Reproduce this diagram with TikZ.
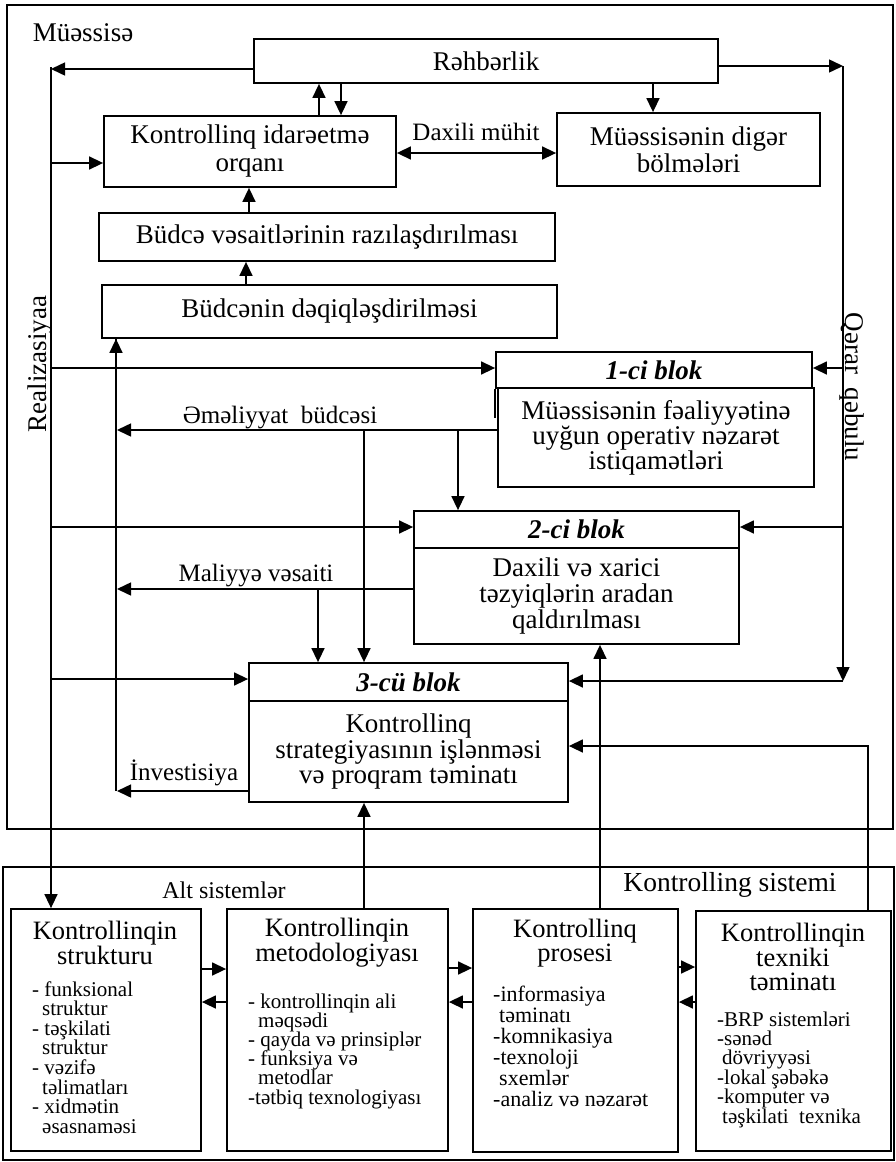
\documentclass[tikz,border=0pt]{standalone}
\usepackage{fontspec}
\setmainfont{Liberation Serif}
\usetikzlibrary{arrows.meta}
\begin{document}
\begin{tikzpicture}[x=1pt,y=-1pt,
  frame/.style={draw, line width=2pt, inner sep=0pt},
  box/.style={draw, line width=1.8pt, inner sep=0pt, align=center, fill=white},
  conn/.style={line width=1.5pt, -{Triangle[length=14pt,width=13pt]}},
  dconn/.style={line width=1.5pt, {Triangle[length=14pt,width=13pt]}-{Triangle[length=14pt,width=13pt]}},
  fbig/.style={font=\fontsize{27}{28}\selectfont},
  fhead/.style={font=\fontsize{27}{28}\selectfont\bfseries\itshape},
  flbl/.style={font=\fontsize{25}{26}\selectfont, inner sep=0pt},
  fsub/.style={font=\fontsize{26.5}{24}\selectfont, inner sep=0pt, align=center},
  flist/.style={font=\fontsize{21}{21}\selectfont, inner sep=0pt, anchor=base west},
]
\useasboundingbox (0,0) rectangle (896,1162);

% frames
\node[frame, minimum width=886pt, minimum height=824pt] (fa) at (450,417) {};
\node[frame, minimum width=891pt, minimum height=293pt] (fb) at (448.5,1013.5) {};

\node[fbig, inner sep=0pt] (muessise) at (83,33) {Müəssisə};
\node[font=\fontsize{24}{24}\selectfont, inner sep=0pt] (alt) at (224,890) {Alt sistemlər};
\node[font=\fontsize{27.5}{28}\selectfont, inner sep=0pt] (ksis) at (730,885) {Kontrolling sistemi};
\node[fbig, inner sep=0pt, rotate=90] (real) at (40,364) {Realizasiyaa};
\node[fbig, inner sep=0pt, rotate=-90] (qerar) at (852,387) {Qərar\ \ qəbulu};

% upper boxes
\node[box, fbig, minimum width=464pt, minimum height=44pt] (rehb) at (486,61) {Rəhbərlik};
\node[box, font=\fontsize{27}{28}\selectfont, minimum width=292pt, minimum height=71pt] (kio) at (250,151.5) {Kontrollinq idarəetmə\\orqanı};
\node[box, font=\fontsize{27}{27}\selectfont, minimum width=263pt, minimum height=73pt] (mdb) at (688.5,149.5) {Müəssisənin digər\\bölmələri};
\node[box, fbig, minimum width=456pt, minimum height=48pt] (bvr) at (327,237) {Büdcə vəsaitlərinin razılaşdırılması};
\node[box, fbig, minimum width=455pt, minimum height=53pt] (bdq) at (329.5,311.5) {Büdcənin dəqiqləşdirilməsi};

% 1-ci blok
\node[box, fhead, minimum width=316pt, minimum height=36pt] (b1h) at (654,370) {1-ci blok};
\node[box, font=\fontsize{27}{25}\selectfont, minimum width=316pt, minimum height=99pt] (b1b) at (656,437.5) {Müəssisənin fəaliyyətinə\\uyğun operativ nəzarət\\istiqamətləri};
\draw[line width=1.8pt] (b1h.south west) -- ++(0,29);

% 2-ci blok
\node[box, fhead, minimum width=325pt, minimum height=37pt] (b2h) at (576.5,529.5) {2-ci blok};
\node[box, font=\fontsize{27}{26}\selectfont, minimum width=325pt, minimum height=96pt] (b2b) at (576.5,596) {Daxili və xarici\\təzyiqlərin aradan\\qaldırılması};

% 3-cu blok
\node[box, fhead, minimum width=319pt, minimum height=38pt] (b3h) at (408.5,682) {3-cü blok};
\node[box, font=\fontsize{27}{22}\selectfont, minimum width=319pt, minimum height=101pt] (b3b) at (408.5,751.5) {Kontrollinq\\strategiyasının işlənməsi\\və proqram təminatı};

% lower boxes
\node[box, minimum width=190pt, minimum height=242pt] (s1) at (106,1030) {};
\node[box, minimum width=221pt, minimum height=242pt] (s2) at (337.5,1030) {};
\node[box, minimum width=205pt, minimum height=243pt] (s3) at (575.5,1030.5) {};
\node[box, minimum width=195pt, minimum height=240pt] (s4) at (793.5,1031) {};

\node[fsub] (s1t) at (105,943) {Kontrollinqin\\strukturu};
\node[fsub] (s2t) at (337,943) {Kontrollinqin\\metodologiyası};
\node[fsub] (s3t) at (575,943) {Kontrollinq\\prosesi};
\node[font=\fontsize{26.5}{24.5}\selectfont, inner sep=0pt, align=center] (s4t) at (793,957) {Kontrollinqin\\texniki\\təminatı};

\foreach \t [count=\i] in {- funksional,{\hspace*{10pt}struktur},- təşkilati,{\hspace*{10pt}struktur},- vəzifə,{\hspace*{10pt}təlimatları},- xidmətin,{\hspace*{10pt}əsasnaməsi}}
  \node[flist] (sa\i) at (32,{996+19.6*(\i-1)}) {\t};
\foreach \t [count=\i] in {- kontrollinqin ali,{\hspace*{10pt}məqsədi},- qayda və prinsiplər,- funksiya və,{\hspace*{10pt}metodlar},-tətbiq texnologiyası}
  \node[flist] (sb\i) at (248,{1008+19.2*(\i-1)}) {\t};
\foreach \t [count=\i] in {-informasiya,{\hspace*{6pt}təminatı},-komnikasiya,-texnoloji,{\hspace*{6pt}sxemlər},-analiz və nəzarət}
  \node[flist, font=\fontsize{22}{22}\selectfont] (sc\i) at (493,{1001+21*(\i-1)}) {\t};
\foreach \t [count=\i] in {-BRP sistemləri,-sənəd,{\hspace*{5pt}dövriyyəsi},-lokal şəbəkə,-komputer və,{\hspace*{5pt}təşkilati\ \ texnika}}
  \node[flist] (sd\i) at (717,{1026+19.4*(\i-1)}) {\t};

% rails
\coordinate (railL) at (51,67);
\coordinate (railR) at (843,66);
\coordinate (railRend) at (843,681);
\draw[conn] (rehb.west |- 0,69) -- (railL |- 0,69);
\draw[conn] (railL) -- (s1.north -| railL);
\draw[conn] (railL |- 0,163) -- (kio.west |- 0,163);
\draw[conn] (railL |- 0,368) -- (b1h.west |- 0,368);
\draw[conn] (railL |- 0,527) -- (b2h.west |- 0,527);
\draw[conn] (railL |- 0,679) -- (b3h.west |- 0,679);

\draw[conn] (rehb.east |- railR) -- (railR);
\draw[conn] (railR) -- (railRend);
\draw[conn] (railRend) -- (b3h.east |- railRend);
\draw[conn] (railR |- 0,368) -- (b1h.east |- 0,368);
\draw[conn] (railR |- 0,527) -- (b2h.east |- 0,527);

% top links
\draw[conn] (kio.north -| 319,0) -- (rehb.south -| 319,0);
\draw[conn] (rehb.south -| 341,0) -- (kio.north -| 341,0);
\draw[conn] (rehb.south -| 653,0) -- (mdb.north -| 653,0);
\draw[dconn] (kio.east |- 0,153) -- (mdb.west |- 0,153);
\node[flbl] (daxili) at (476,132) {Daxili mühit};
\draw[conn] (bvr.north -| 249,0) -- (kio.south -| 249,0);
\draw[conn] (bdq.north -| 246,0) -- (bvr.south -| 246,0);

% budget rail
\coordinate (vbud) at (116,791);
\draw[line width=1.5pt] (vbud) -- (116,338);
\draw[conn] (116,380) -- (bdq.south -| vbud);

% emeliyyat
\coordinate (emL) at (117,430);
\draw[conn] (b1b.west |- emL) -- (emL);
\node[flbl] (emlbl) at (280,418) {Əməliyyat\ \ büdcəsi};
\coordinate (em1) at (458,430);
\coordinate (em2) at (364,430);
\draw[conn] (em1) -- (b2h.north -| em1);
\draw[conn] (em2) -- (b3h.north -| em2);

% maliyye
\coordinate (maL) at (117,589);
\coordinate (ma1) at (318,589);
\draw[conn] (b2b.west |- maL) -- (maL);
\draw[conn] (ma1) -- (b3h.north -| ma1);
\node[flbl] (mallbl) at (256,576) {Maliyyə vəsaiti};

% investisiya
\coordinate (inL) at (117,791);
\draw[conn] (b3b.west |- inL) -- (inL);
\node[flbl] (invlbl) at (184,773) {İnvestisiya};

% from subsystems up
\draw[conn] (s2.north -| 364,0) -- (b3b.south -| 364,0);
\draw[conn] (s3.north -| 600,0) -- (b2b.south -| 600,0);
\coordinate (tk) at (868,746);
\draw[conn] (s4.north -| tk) -- (tk) -- (b3b.east |- tk);

% between subsystems
\draw[conn] (s1.east |- 0,969) -- (s2.west |- 0,969);
\draw[conn] (s2.west |- 0,1002) -- (s1.east |- 0,1002);
\draw[conn] (s2.east |- 0,968) -- (s3.west |- 0,968);
\draw[conn] (s3.west |- 0,1002) -- (s2.east |- 0,1002);
\draw[conn] (s3.east |- 0,967) -- (s4.west |- 0,967);
\draw[conn] (s4.west |- 0,1002) -- (s3.east |- 0,1002);
\end{tikzpicture}
\end{document}
